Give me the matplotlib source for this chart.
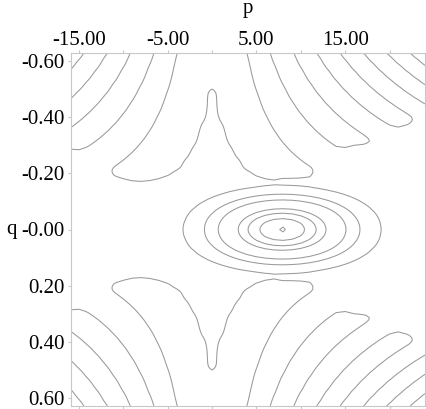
import numpy as np
import matplotlib
matplotlib.use("Agg")
import matplotlib.pyplot as plt

# grid the surface is sampled on (coarse in p, fine in q)
p_nodes = np.arange(-16, 25, 1.0)
q_nodes = np.linspace(-0.6283, 0.6283, 161)

# central hump
hump_center = [7.9, 0.0]
hump_width = [5.4, 0.0826]
hump_tail = 0.2
hump_height = 3.79

# fringes along p*q = const
floor_level = 0.55
fringe_height = 0.9
fringe_period = 3.3

# |q| where the fringes switch on, read along p
edge_p = [-16.5, -13.5, -11.4, -8.5, -6.5, -4.3, -3, -2, -1, 0,
          1, 2, 3, 4.3, 6.5, 8, 9, 11.4, 13.5, 15.6, 18, 23, 24.5]
edge_q = [0.29, 0.25, 0.19, 0.17, 0.176, 0.2, 0.25, 0.30, 0.383, 0.5,
          0.383, 0.30, 0.25, 0.2, 0.185, 0.19, 0.19, 0.19, 0.25, 0.298, 0.305, 0.39, 0.41]
# how sharply they switch on
soft_p = [-24, -4, -2.5, -1, 0, 1, 2.5, 4, 24]
soft_w = [0.01, 0.01, 0.025, 0.025, 0.008, 0.025, 0.025, 0.01, 0.01]

levels = [1.0, 1.57, 2.11, 3.04, 3.49, 3.94, 4.32]

p_ticks = [-15, -10, -5, 0, 5, 10, 15, 20]
p_tick_text = ["-15.00", "", "-5.00", "", "5.00", "", "15.00", ""]
q_ticks = [-0.6, -0.4, -0.2, 0.0, 0.2, 0.4, 0.6]
q_tick_text = ["-0.60", "-0.40", "-0.20", "-0.00", "0.20", "0.40", "0.60"]

plt.rcParams['font.family'] = ['Liberation Serif', 'DejaVu Serif']
plt.rcParams['font.size'] = 15

P, Q = np.meshgrid(p_nodes, q_nodes)
A = np.abs(Q)
u = np.abs(P * Q)
ring = np.where(u < fringe_period / 2, 1.0, np.sin(np.pi * u / fringe_period) ** 2)
a_on = np.interp(P, edge_p, edge_q)
w_on = np.interp(P, soft_p, soft_w)
gate = fringe_height / (1 + np.exp(-(A - a_on) / w_on))
dp = (P - hump_center[0]) / hump_width[0]
dq = (Q - hump_center[1]) / hump_width[1]
hump = hump_height * np.exp(-0.5 * dp ** 2 - 0.5 * dq ** 2 - (Q / hump_tail) ** 4)
Z = floor_level + gate * ring + hump

fig = plt.figure(figsize=(4.27, 4.09), dpi=100)
ax = fig.add_axes([71 / 427, 3 / 409, 354 / 427, 353 / 409])

ax.contour(P, Q, Z, levels=levels, colors='#999999', linewidths=0.75)

ax.set_xlim(-15.9, 24.0)
ax.set_ylim(0.6283, -0.6283)

ax.xaxis.tick_top()
ax.set_xticks(p_ticks)
ax.set_xticklabels(p_tick_text)
ax.set_yticks(q_ticks)
ax.set_yticklabels(q_tick_text)
ax.tick_params(axis='both', direction='out', length=2, width=0.8, color='#c8c8c8',
               top=True, bottom=True, left=True, right=True,
               labeltop=True, labelbottom=False, labelleft=True, labelright=False)
ax.tick_params(axis='x', pad=0.5)
ax.tick_params(axis='y', pad=2.6)

for s in ax.spines.values():
    s.set_color('#c8c8c8')
    s.set_linewidth(0.8)

ax.set_xlabel('p', va='baseline')
ax.xaxis.set_label_position('top')
ax.xaxis.set_label_coords(0.5, 1.1147)
ax.set_ylabel('q', rotation=0, ha='center', va='center')
ax.yaxis.set_label_coords(-0.169, 0.5)

fig.savefig('out.png', dpi=100)
